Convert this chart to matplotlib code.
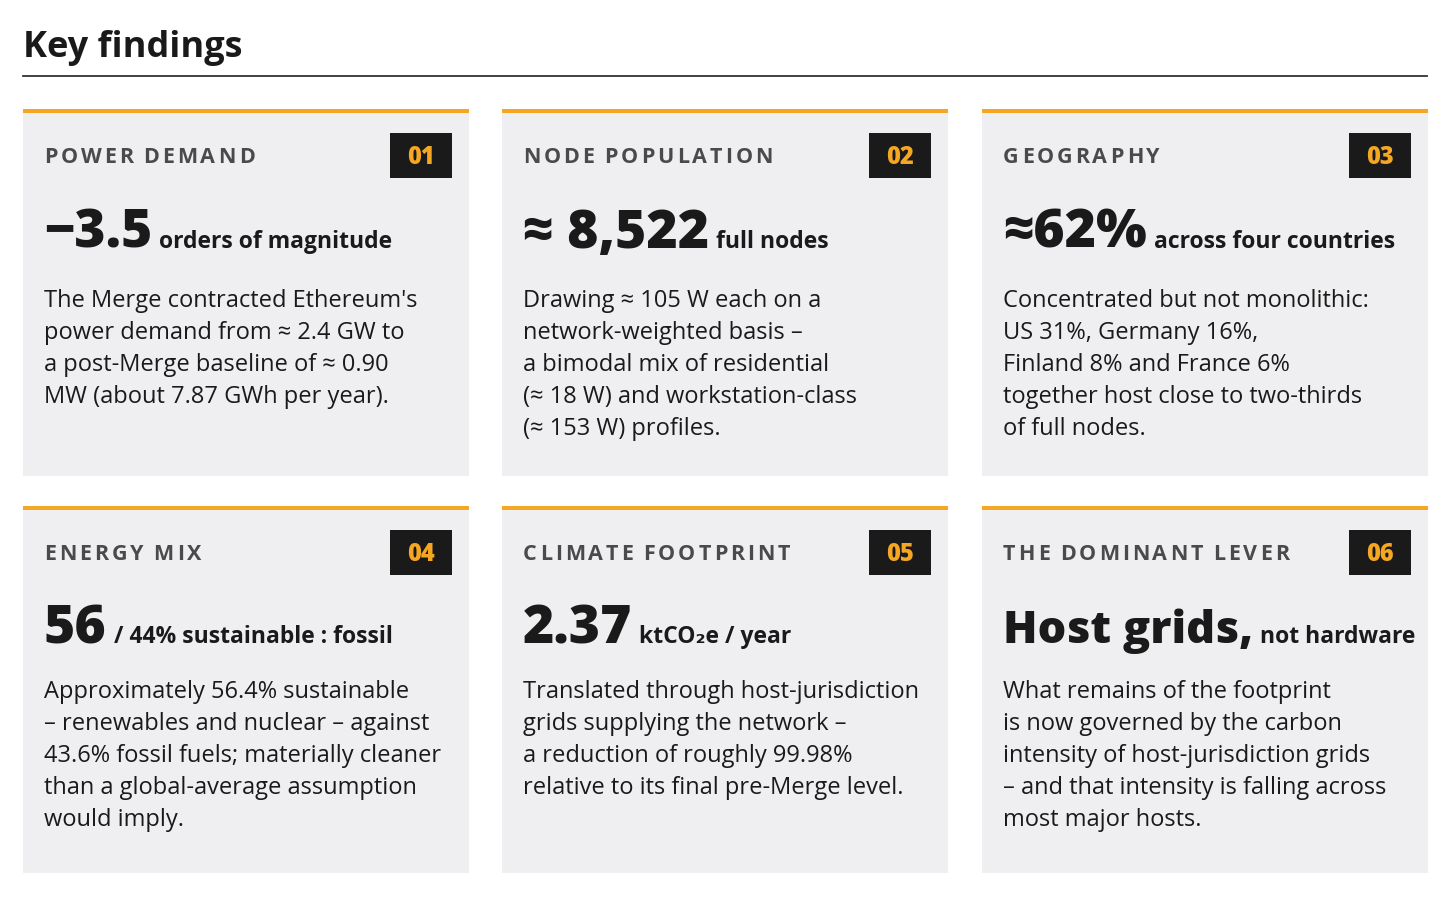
import matplotlib
matplotlib.use("Agg")
import matplotlib.pyplot as plt
from matplotlib.patches import Rectangle

plt.rcParams['font.family'] = ['Open Sans', 'DejaVu Sans']

# card content
labels = ["POWER DEMAND", "NODE POPULATION", "GEOGRAPHY",
          "ENERGY MIX", "CLIMATE FOOTPRINT", "THE DOMINANT LEVER"]
badges = ["01", "02", "03", "04", "05", "06"]
numbers = ["\u22123.5", "\u2248 8,522", "\u224862%", "56", "2.37", "Host grids,"]
units = ["orders of magnitude", "full nodes", "across four countries",
         "/ 44% sustainable : fossil", "ktCO\u2082e / year", "not hardware"]
bodies = [
    ["The Merge contracted Ethereum's", "power demand from \u2248 2.4 GW to",
     "a post-Merge baseline of \u2248 0.90", "MW (about 7.87 GWh per year)."],
    ["Drawing \u2248 105 W each on a", "network-weighted basis \u2013",
     "a bimodal mix of residential", "(\u2248 18 W) and workstation-class",
     "(\u2248 153 W) profiles."],
    ["Concentrated but not monolithic:", "US 31%, Germany 16%,",
     "Finland 8% and France 6%", "together host close to two-thirds",
     "of full nodes."],
    ["Approximately 56.4% sustainable", "\u2013 renewables and nuclear \u2013 against",
     "43.6% fossil fuels; materially cleaner", "than a global-average assumption",
     "would imply."],
    ["Translated through host-jurisdiction", "grids supplying the network \u2013",
     "a reduction of roughly 99.98%", "relative to its final pre-Merge level."],
    ["What remains of the footprint", "is now governed by the carbon",
     "intensity of host-jurisdiction grids", "\u2013 and that intensity is falling across",
     "most major hosts."],
]

ORANGE = "#f5a623"
CARD = "#efeff1"
INK = "#1a1a1a"
GREY = "#4a4a4a"

col_x = [23, 502, 982]
row_y = [109, 506]
card_w, card_h = 446, 367
# the word headline in the last card is set a bit smaller than the figures
big_size = [38.5, 38.5, 38.5, 38.5, 38.5, 32.5]

fig = plt.figure(figsize=(14.56, 8.99), dpi=100)
ax = fig.add_axes([0, 0, 1, 1])
ax.set_xlim(0, 1456)
ax.set_ylim(899, 0)
ax.axis('off')
renderer = fig.canvas.get_renderer()


def text_width(t):
    bb = t.get_window_extent(renderer=renderer)
    return bb.width  # 1 px == 1 data unit here


def spaced(x, y, s, size, tracking, **kw):
    for ch in s:
        if ch == " ":
            x += size * 0.45
            continue
        t = ax.text(x, y, ch, fontsize=size, va='baseline', ha='left', **kw)
        x += text_width(t) + tracking


ax.text(23, 57, "Key findings", fontsize=26, fontweight='bold', color=INK,
        va='baseline', ha='left')
ax.plot([23, 1427], [76, 76], color="#333333", lw=1.3)

for i in range(6):
    r, c = divmod(i, 3)
    x0, y0 = col_x[c], row_y[r]
    ax.add_patch(Rectangle((x0, y0), card_w, card_h, facecolor=CARD, edgecolor='none'))
    ax.add_patch(Rectangle((x0, y0), card_w, 4, facecolor=ORANGE, edgecolor='none'))
    # badge
    ax.add_patch(Rectangle((x0 + 367, y0 + 24), 62, 45, facecolor=INK, edgecolor='none'))
    ax.text(x0 + 398, y0 + 48.5, badges[i], fontsize=17, fontweight='heavy', color=ORANGE,
            ha='center', va='center')
    spaced(x0 + 21, y0 + 54, labels[i], 15.5, 3.0, color=GREY, fontweight='bold')
    # headline
    hb = y0 + 139 - r * 2
    big = ax.text(x0 + 21, hb, numbers[i], fontsize=big_size[i], fontweight='heavy',
                  color=INK, va='baseline', ha='left')
    w = text_width(big)
    ax.text(x0 + 21 + w + 7, hb, units[i], fontsize=16.5, fontweight='bold', color=INK,
            va='baseline', ha='left')
    # body
    by = y0 + 198 - r * 6
    for k, line in enumerate(bodies[i]):
        ax.text(x0 + 21, by + 32 * k, line, fontsize=17, color=INK,
                va='baseline', ha='left')

fig.savefig("out.png", dpi=100, facecolor='white')
